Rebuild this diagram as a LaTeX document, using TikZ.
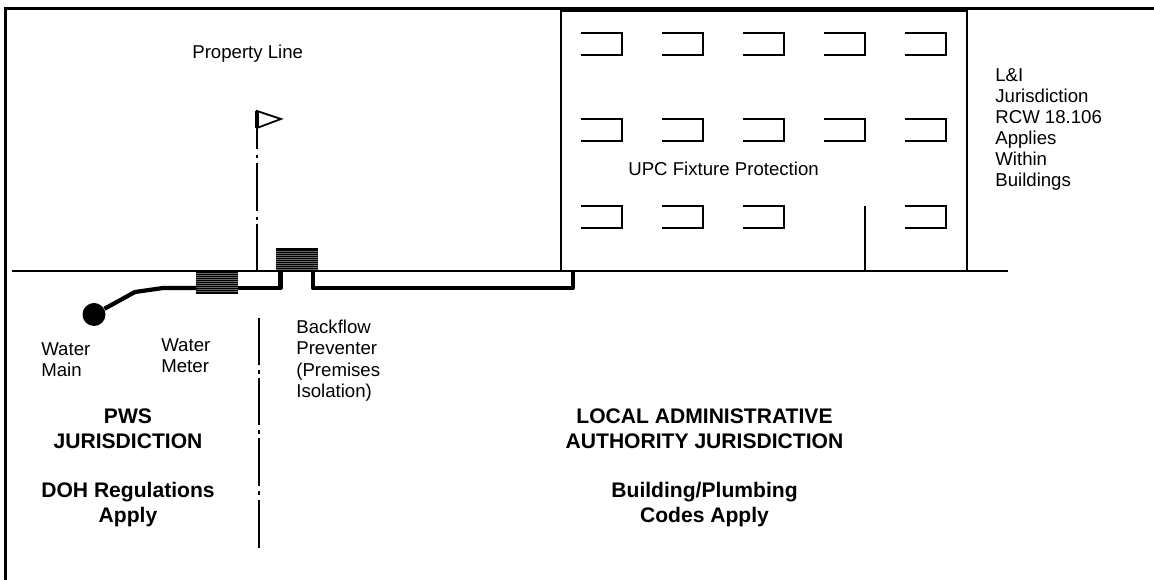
\documentclass[tikz,border=0pt]{standalone}
\usepackage{fontspec}
\setmainfont{Liberation Sans}
\tikzset{
    label text/.style={inner sep=0pt,align=left,anchor=north west,font=\fontsize{10.6}{12}\selectfont},
    head text/.style={inner sep=0pt,align=center,anchor=north,font=\fontsize{12}{14.2}\selectfont\bfseries},
    fixture/.style={line width=1.1pt},
    wall/.style={line width=1.6pt},
    pipe/.style={line width=2.4pt,line join=round},
    valve/.style={draw,rectangle,inner sep=0pt,minimum width=22.8pt,minimum height=12.5pt,fill=black,line width=0.6pt},
    main dot/.style={circle,fill=black,inner sep=0pt,minimum size=23*0.02cm},
}
\begin{document}
\begin{tikzpicture}[x=0.02cm,y=-0.02cm]
    \useasboundingbox (0,0) rectangle (1154,580);
    \draw[line width=1.9pt] (5.5,580) -- (5.5,8.5) -- (1154,8.5);
    \draw[wall] (561,11) rectangle (967,271);
    \draw[line width=1pt] (12,271) -- (1008,271);
    \foreach \y in {33,119,206} {
        \foreach \x in {581,662,743,905} {
            \draw[fixture] (\x,\y) -- +(41,0) -- +(41,22) -- +(0,22);
        }
    }
    \foreach \y in {33,119} {
        \draw[fixture] (824,\y) -- +(41,0) -- +(41,22) -- +(0,22);
    }
    \draw[fixture] (865,206) -- (865,271);
    \node[valve] (meter) at (217,282) {};
    \node[valve] (preventer) at (297,260) {};
    \foreach \y in {-5,-3.9,...,5.1} {
        \draw[black!60,line width=0.15pt] ([yshift=\y pt]meter.west) -- ([yshift=\y pt]meter.east);
        \draw[black!60,line width=0.15pt] ([yshift=\y pt]preventer.west) -- ([yshift=\y pt]preventer.east);
    }
    \node[main dot] (main) at (94,314.5) {};
    \draw[pipe] (main) -- (135,292) -- (163,288) -- (meter.west |- 0,288);
    \draw[pipe] (meter.east |- 0,288) -- (280.5,288) -- (280.5,271);
    \draw[pipe] (313,271) -- (313,288) -- (573,288) -- (573,271);
    \draw[line width=1pt,line join=miter] (257,128) -- (257,111) -- (281,119) -- cycle;
    \draw[line width=2pt] (257,111) -- (257,128);
    \draw[line width=1pt] (257,128) -- (257,149) (257,155) -- (257,158) (257,163) -- (257,211) (257,217) -- (257,220) (257,224) -- (257,271);
    \draw[line width=0.9pt] (259,318) -- (259,365) (259,370) -- (259,374) (259,378) -- (259,425) (259,430) -- (259,434) (259,438) -- (259,486) (259,491) -- (259,495) (259,500) -- (259,548);
    \node[label text] (propline) at (192,45) {Property Line};
    \node[label text] (upc) at (628,162) {UPC Fixture Protection};
    \node[label text] (li) at (995,68) {L\&I\\Jurisdiction\\RCW 18.106\\Applies\\Within\\Buildings};
    \node[label text] (mainlabel) at (41,342) {Water\\Main};
    \node[label text] (meterlabel) at (161,338) {Water\\Meter};
    \node[label text] (preventerlabel) at (296,320) {Backflow\\Preventer\\(Premises\\Isolation)};
    \node[head text] (pws) at (128,408) {PWS\\JURISDICTION};
    \node[head text] (doh) at (128,482) {DOH Regulations\\Apply};
    \node[head text] (local) at (704.5,408) {LOCAL ADMINISTRATIVE\\AUTHORITY JURISDICTION};
    \node[head text] (codes) at (704.5,482) {Building/Plumbing\\Codes Apply};
\end{tikzpicture}
\end{document}
